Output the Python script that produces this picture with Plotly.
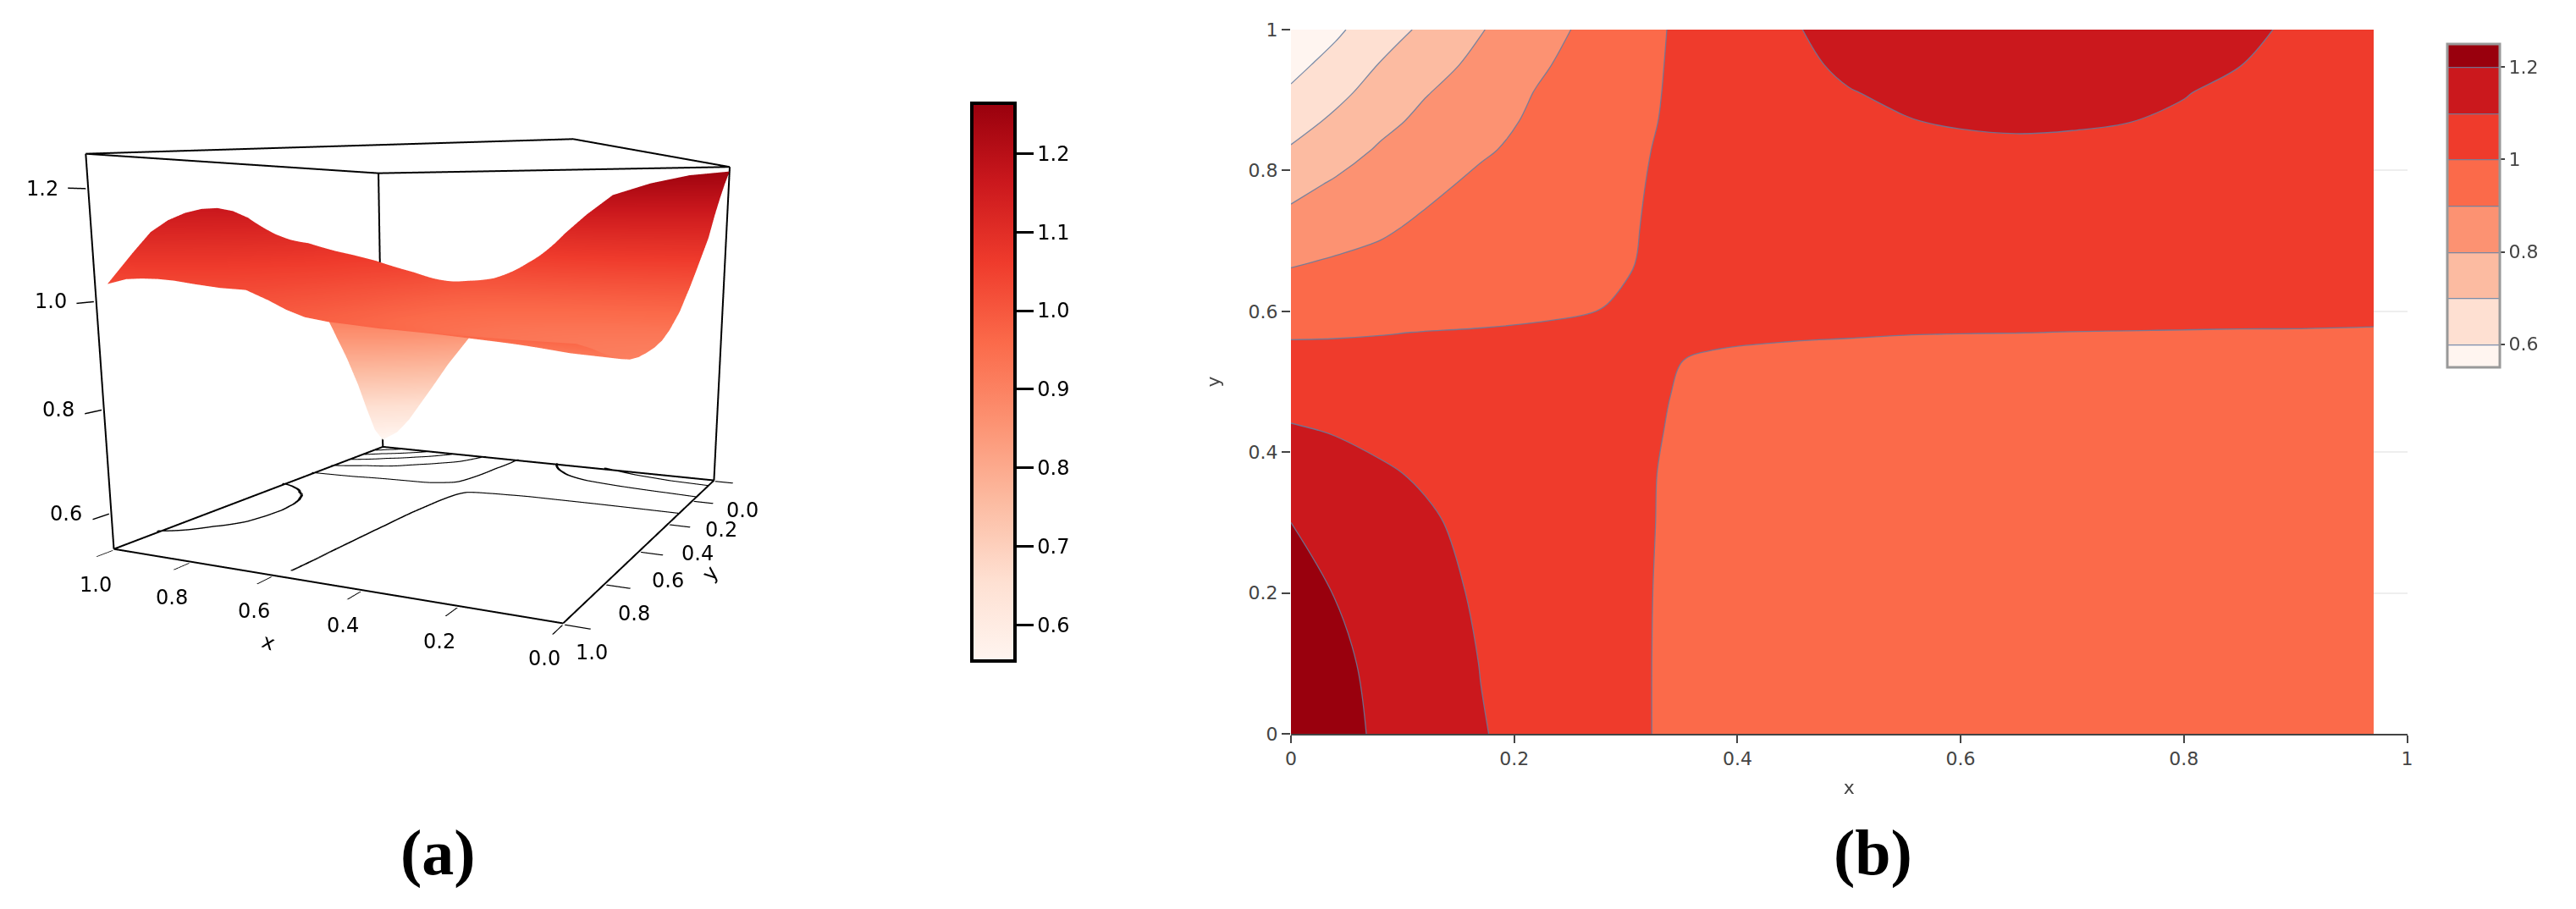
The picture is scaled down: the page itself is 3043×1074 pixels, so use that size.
import numpy as np
import plotly.graph_objects as go

X_B = [0, .04, .08, .12, .17, .22, .27, .31, .34, .38, .45, .5, .55, .6, .65, .7, .75, .8, .85, .9, .97]
Y_B = [0, .1, .2, .3, .37, .43, .48, .53, .57, .61, .66, .72, .78, .83, .87, .91, .95, 1.0]
Z_B = [
    [1.25, 1.222, 1.19, 1.155, 1.105, 1.07, 1.035, 1.008, .99, .965, .935, .92, .912, .908, .906, .908, .915, .925, .937, .95, .965],
    [1.243, 1.215, 1.183, 1.148, 1.098, 1.066, 1.034, 1.008, .99, .966, .94, .93, .92, .917, .915, .915, .92, .93, .94, .952, .966],
    [1.226, 1.198, 1.165, 1.132, 1.088, 1.06, 1.032, 1.009, .99, .968, .948, .938, .93, .927, .925, .925, .93, .938, .946, .956, .968],
    [1.2, 1.175, 1.142, 1.112, 1.076, 1.052, 1.029, 1.01, .992, .972, .956, .946, .94, .937, .935, .935, .94, .946, .952, .96, .971],
    [1.155, 1.135, 1.11, 1.09, 1.063, 1.043, 1.024, 1.009, .994, .976, .962, .952, .946, .945, .943, .943, .947, .952, .957, .963, .973],
    [1.11, 1.095, 1.08, 1.066, 1.05, 1.036, 1.02, 1.008, .998, .98, .968, .96, .955, .953, .952, .952, .955, .96, .963, .968, .977],
    [1.065, 1.058, 1.05, 1.043, 1.033, 1.024, 1.014, 1.006, 1.0, .985, .974, .968, .964, .962, .96, .96, .963, .966, .969, .973, .98],
    [1.02, 1.018, 1.016, 1.014, 1.012, 1.01, 1.007, 1.004, 1.002, .995, .987, .985, .982, .98, .978, .977, .978, .979, .981, .983, .986],
    [.993, .995, .998, 1.001, 1.003, 1.005, 1.007, 1.008, 1.008, 1.008, 1.006, 1.004, 1.002, 1.001, 1.0005, .9995, .999, .9985, .998, .998, .997],
    [.96, .964, .969, .976, .984, .991, .997, 1.006, 1.012, 1.018, 1.024, 1.024, 1.022, 1.02, 1.018, 1.017, 1.016, 1.015, 1.014, 1.013, 1.012],
    [.902, .918, .93, .945, .962, .976, .99, 1.001, 1.016, 1.03, 1.042, 1.044, 1.04, 1.04, 1.04, 1.04, 1.039, 1.037, 1.035, 1.033, 1.028],
    [.835, .862, .886, .915, .94, .96, .982, .998, 1.02, 1.042, 1.057, 1.06, 1.056, 1.056, 1.056, 1.055, 1.053, 1.05, 1.047, 1.042, 1.03],
    [.77, .812, .85, .879, .918, .945, .972, .994, 1.018, 1.048, 1.068, 1.072, 1.068, 1.07, 1.072, 1.07, 1.068, 1.063, 1.058, 1.05, 1.035],
    [.708, .757, .81, .847, .889, .925, .963, .991, 1.012, 1.05, 1.076, 1.082, 1.083, 1.087, 1.09, 1.088, 1.085, 1.08, 1.073, 1.06, 1.04],
    [.66, .718, .775, .821, .867, .915, .955, .988, 1.007, 1.052, 1.084, 1.094, 1.098, 1.105, 1.108, 1.106, 1.101, 1.093, 1.082, 1.068, 1.042],
    [.612, .675, .74, .795, .845, .904, .947, .986, 1.005, 1.05, 1.086, 1.098, 1.108, 1.118, 1.123, 1.12, 1.113, 1.102, 1.088, 1.07, 1.042],
    [.575, .63, .705, .763, .823, .886, .938, .983, 1.004, 1.045, 1.09, 1.108, 1.122, 1.134, 1.141, 1.139, 1.131, 1.118, 1.101, 1.076, 1.04],
    [.55, .585, .65, .72, .795, .86, .925, .975, 1.003, 1.038, 1.095, 1.125, 1.148, 1.162, 1.168, 1.166, 1.158, 1.144, 1.122, 1.085, 1.03],
]
REDS = ["#FFF5F0", "#FEE0D2", "#FCBBA1", "#FC9272", "#FB6A4A", "#EF3B2C", "#CB181D", "#99000D"]
TICKS_3D = [0, .2, .4, .6, .8, 1]
Z_TICKS = [.6, .8, 1, 1.2]
BAR_TICKS_A = [.6, .7, .8, .9, 1, 1.1, 1.2]
BAR_TICKS_B = [.6, .8, 1, 1.2]
Z_LIM = [.53, 1.26]

W, H = 3043, 1074
colorscale = [[i / 7, c] for i, c in enumerate(REDS)]
FONT3D = dict(family="DejaVu Sans", size=24, color="black")

fig = go.Figure()

# surface of panel (a): same values as (b), with the two axes swapped
z_surface = np.array(Z_B).T
fig.add_trace(go.Surface(
    x=Y_B, y=X_B, z=z_surface.tolist(),
    colorscale=colorscale, cmin=.554, cmax=1.264,
    lighting=dict(ambient=1, diffuse=0, specular=0, fresnel=0),
    contours=dict(x=dict(highlight=False), y=dict(highlight=False), z=dict(highlight=False)),
    hoverinfo="skip",
    colorbar=dict(
        x=1148 / W, xanchor="left", y=1 - 451.5 / H, yanchor="middle", xpad=0, ypad=0,
        thicknessmode="pixels", thickness=51, lenmode="pixels", len=659,
        outlinecolor="black", outlinewidth=4, tickvals=BAR_TICKS_A, tickformat=".1f",
        ticks="outside", ticklen=20, tickwidth=3, tickcolor="black",
        tickprefix="\u00a0\u00a0\u00a0", tickfont=FONT3D,
    ),
))

# contour lines on the floor of the box: the surface squashed flat and hidden.
# surface contours are always one pixel wide, so a few nudged copies make them heavier
squash = .005
nudge = .002
for dx in (-nudge, 0, nudge):
    for dy in (-nudge, 0, nudge):
        fig.add_trace(go.Surface(
            x=[v + dx for v in Y_B], y=[v + dy for v in X_B], z=(Z_LIM[0] + squash * (z_surface - Z_LIM[0])).tolist(),
            hidesurface=True, showscale=False, hoverinfo="skip",
            contours=dict(
                x=dict(highlight=False), y=dict(highlight=False),
                z=dict(show=True, highlight=False, color="black", width=3, usecolormap=False,
                       start=Z_LIM[0] + squash * (.6 - Z_LIM[0]), end=Z_LIM[0] + squash * (1.2 - Z_LIM[0]), size=squash * .1),
            ),
        ))

# frame of the 3D box: everything except the vertical edge nearest to the viewer
x0, x1 = 0, 1
y0, y1 = 0, 1
z0, z1 = Z_LIM
edges = [
    ((x1, y1, z1), (x1, y0, z1)), ((x1, y0, z1), (x0, y0, z1)), ((x0, y0, z1), (x0, y1, z1)), ((x0, y1, z1), (x1, y1, z1)),
    ((x1, y1, z0), (x1, y0, z0)), ((x1, y0, z0), (x0, y0, z0)), ((x0, y0, z0), (x0, y1, z0)), ((x0, y1, z0), (x1, y1, z0)),
    ((x1, y1, z0), (x1, y1, z1)), ((x1, y0, z0), (x1, y0, z1)), ((x0, y0, z0), (x0, y0, z1)),
]
for a, b in edges:
    fig.add_trace(go.Scatter3d(x=[a[0], b[0]], y=[a[1], b[1]], z=[a[2], b[2]], mode="lines",
                               line=dict(color="black", width=4), hoverinfo="skip", showlegend=False))

fig.add_trace(go.Contour(
    x=X_B, y=Y_B, z=Z_B, xaxis="x", yaxis="y",
    colorscale=colorscale, autocontour=False,
    contours=dict(start=.6, end=1.2, size=.1, coloring="fill"),
    line=dict(color="rgba(100,125,160,.85)", width=1.3, smoothing=1),
    hoverinfo="skip",
    colorbar=dict(
        x=2891 / W, xanchor="left", y=1 - 243 / H, yanchor="middle", xpad=0, ypad=0,
        thicknessmode="pixels", thickness=62, lenmode="pixels", len=382,
        outlinecolor="#999", outlinewidth=3, tickvals=BAR_TICKS_B, ticktext=["0.6", "0.8", "1", "1.2"],
        ticks="outside", ticklen=5, tickwidth=2, tickcolor="#444",
        tickfont=dict(family="DejaVu Sans", size=22, color="#444"),
    ),
))

# tick labels and titles of the 3D box as scene annotations, so that they stay horizontal
scene_text = []
for v in TICKS_3D:
    scene_text.append(dict(x=v, y=1, z=z0, text=f"{v:.1f}", xshift=-22, yshift=-42))
    scene_text.append(dict(x=0, y=v, z=z0, text=f"{v:.1f}", xshift=34, yshift=-35))
for v in Z_TICKS:
    scene_text.append(dict(x=1, y=1, z=v, text=f"{v:.1f}", xshift=-54, yshift=0))
scene_text.append(dict(x=.55, y=1, z=z0, text="x", xshift=-30, yshift=-75, textangle=20))
scene_text.append(dict(x=0, y=.55, z=z0, text="y", xshift=75, yshift=-35, textangle=-50))
for a in scene_text:
    a.update(showarrow=False, font=FONT3D)

axis3d = dict(
    showbackground=False, showgrid=False, zeroline=False, showline=False,
    ticks="outside", tickcolor="black", tickwidth=3, ticklen=20, showspikes=False, showticklabels=False,
    title=dict(text=""),
)
gray = dict(family="DejaVu Sans", size=22, color="#444")
fig.update_layout(
    width=W, height=H, autosize=False, showlegend=False,
    paper_bgcolor="white", plot_bgcolor="white",
    margin=dict(l=0, r=0, t=0, b=0, autoexpand=False),
    scene=dict(
        domain=dict(x=[0, 1095 / W], y=[0, 1]),
        aspectmode="manual", aspectratio=dict(x=1, y=1.145, z=.80),
        camera=dict(eye=dict(x=-1.099, y=2.239, z=.284), center=dict(x=-1.0744, y=2.187, z=.2714),
                    up=dict(x=0, y=0, z=1), projection=dict(type="perspective")),
        # ranges a touch wider than the box, lines lying exactly on the bounds get clipped
        xaxis=dict(axis3d, range=[-.003, 1.003], tickvals=TICKS_3D),
        yaxis=dict(axis3d, range=[-.003, 1.003], tickvals=TICKS_3D),
        zaxis=dict(axis3d, range=[Z_LIM[0] - .002, Z_LIM[1] + .002], tickvals=Z_TICKS),
        annotations=scene_text,
    ),
    xaxis=dict(domain=[1525 / W, 2843.5 / W], range=[0, 1], dtick=.2, showgrid=False, zeroline=False, showline=True,
               linecolor="#444", linewidth=2, ticks="outside", ticklen=9, tickwidth=2, tickcolor="#444",
               tickfont=gray, title=dict(text="x", font=gray, standoff=14)),
    yaxis=dict(domain=[1 - 867 / H, 1 - 35 / H], range=[0, 1], dtick=.2, showgrid=True, gridcolor="#eee", gridwidth=2,
               zeroline=False, showline=False, ticks="outside", ticklen=10, tickwidth=2, tickcolor="#444",
               tickfont=gray, title=dict(text="y", font=gray, standoff=26)),
    annotations=[
        dict(text="<b>(a)</b>", x=517 / W, y=1 - 1007 / H, xref="paper", yref="paper", showarrow=False,
             xanchor="center", yanchor="middle", font=dict(family="Liberation Serif", size=76, color="black")),
        dict(text="<b>(b)</b>", x=2212 / W, y=1 - 1007 / H, xref="paper", yref="paper", showarrow=False,
             xanchor="center", yanchor="middle", font=dict(family="Liberation Serif", size=76, color="black")),
    ],
)

fig.write_html("out.html", config=dict(displayModeBar=False), post_script="document.body.style.margin='0';")
